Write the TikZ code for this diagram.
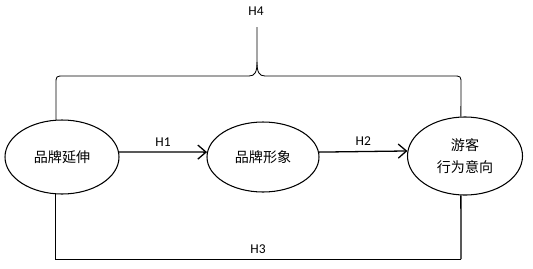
\documentclass[tikz,border=0pt]{standalone}
\usepackage{fontspec}
\setmainfont{Carlito}
\newfontfamily\cjk{Noto Sans CJK SC}
\usetikzlibrary{positioning,arrows.meta,shapes.geometric}

\begin{document}
\begin{tikzpicture}[
    x=0.03cm, y=-0.03cm,
    construct/.style={ellipse, draw, line width=0.9pt, inner sep=0pt, align=center, font=\cjk\fontsize{12}{14}\selectfont},
    path/.style={-{Straight Barb[length=7pt,width=12pt]}, line width=1.1pt},
    link/.style={line width=0.7pt},
    hyp/.style={font=\fontsize{11.5}{13}\selectfont}
]
\useasboundingbox (0,0) rectangle (533,268);

% Constructs
\node[construct, minimum width=3.42cm, minimum height=2.22cm] (brandext) at (62,157) {品牌延伸};
\node[construct, minimum width=3.36cm, minimum height=2.1cm] (brandimg) at (263,157) {品牌形象};
\node[construct, minimum width=3.45cm, minimum height=2.34cm] (intent) at (465,156) {游客\\[5pt]行为意向};

% Direct paths
\draw[path] (brandext.5) -- (brandimg.175) node[hyp, midway, above=1pt] {H1};
\draw[path] (brandimg.5) -- (intent.175) node[hyp, midway, above=1pt] {H2};

% H3 link below
\coordinate (h3corner) at (461,259);
\draw[link] (brandext.260) |- (h3corner);
\draw[line width=1.1pt] (intent.264) -- (h3corner);
\node[hyp] (h3) at (258,249) {H3};

% H4 brace
\coordinate (tip) at (257,27);
\draw[link] (brandext.99) -- (56,84) .. controls (56,76) .. (64,76) -- (249,76)
    .. controls (255,76) and (257,72) .. (257,62) -- (tip);
\draw[link] (257,62) .. controls (257,72) and (259,76) .. (265,76) -- (453,76)
    .. controls (461,76) .. (461,84) -- (intent.96);
\node[hyp] (h4) at (256,11) {H4};

\end{tikzpicture}
\end{document}
